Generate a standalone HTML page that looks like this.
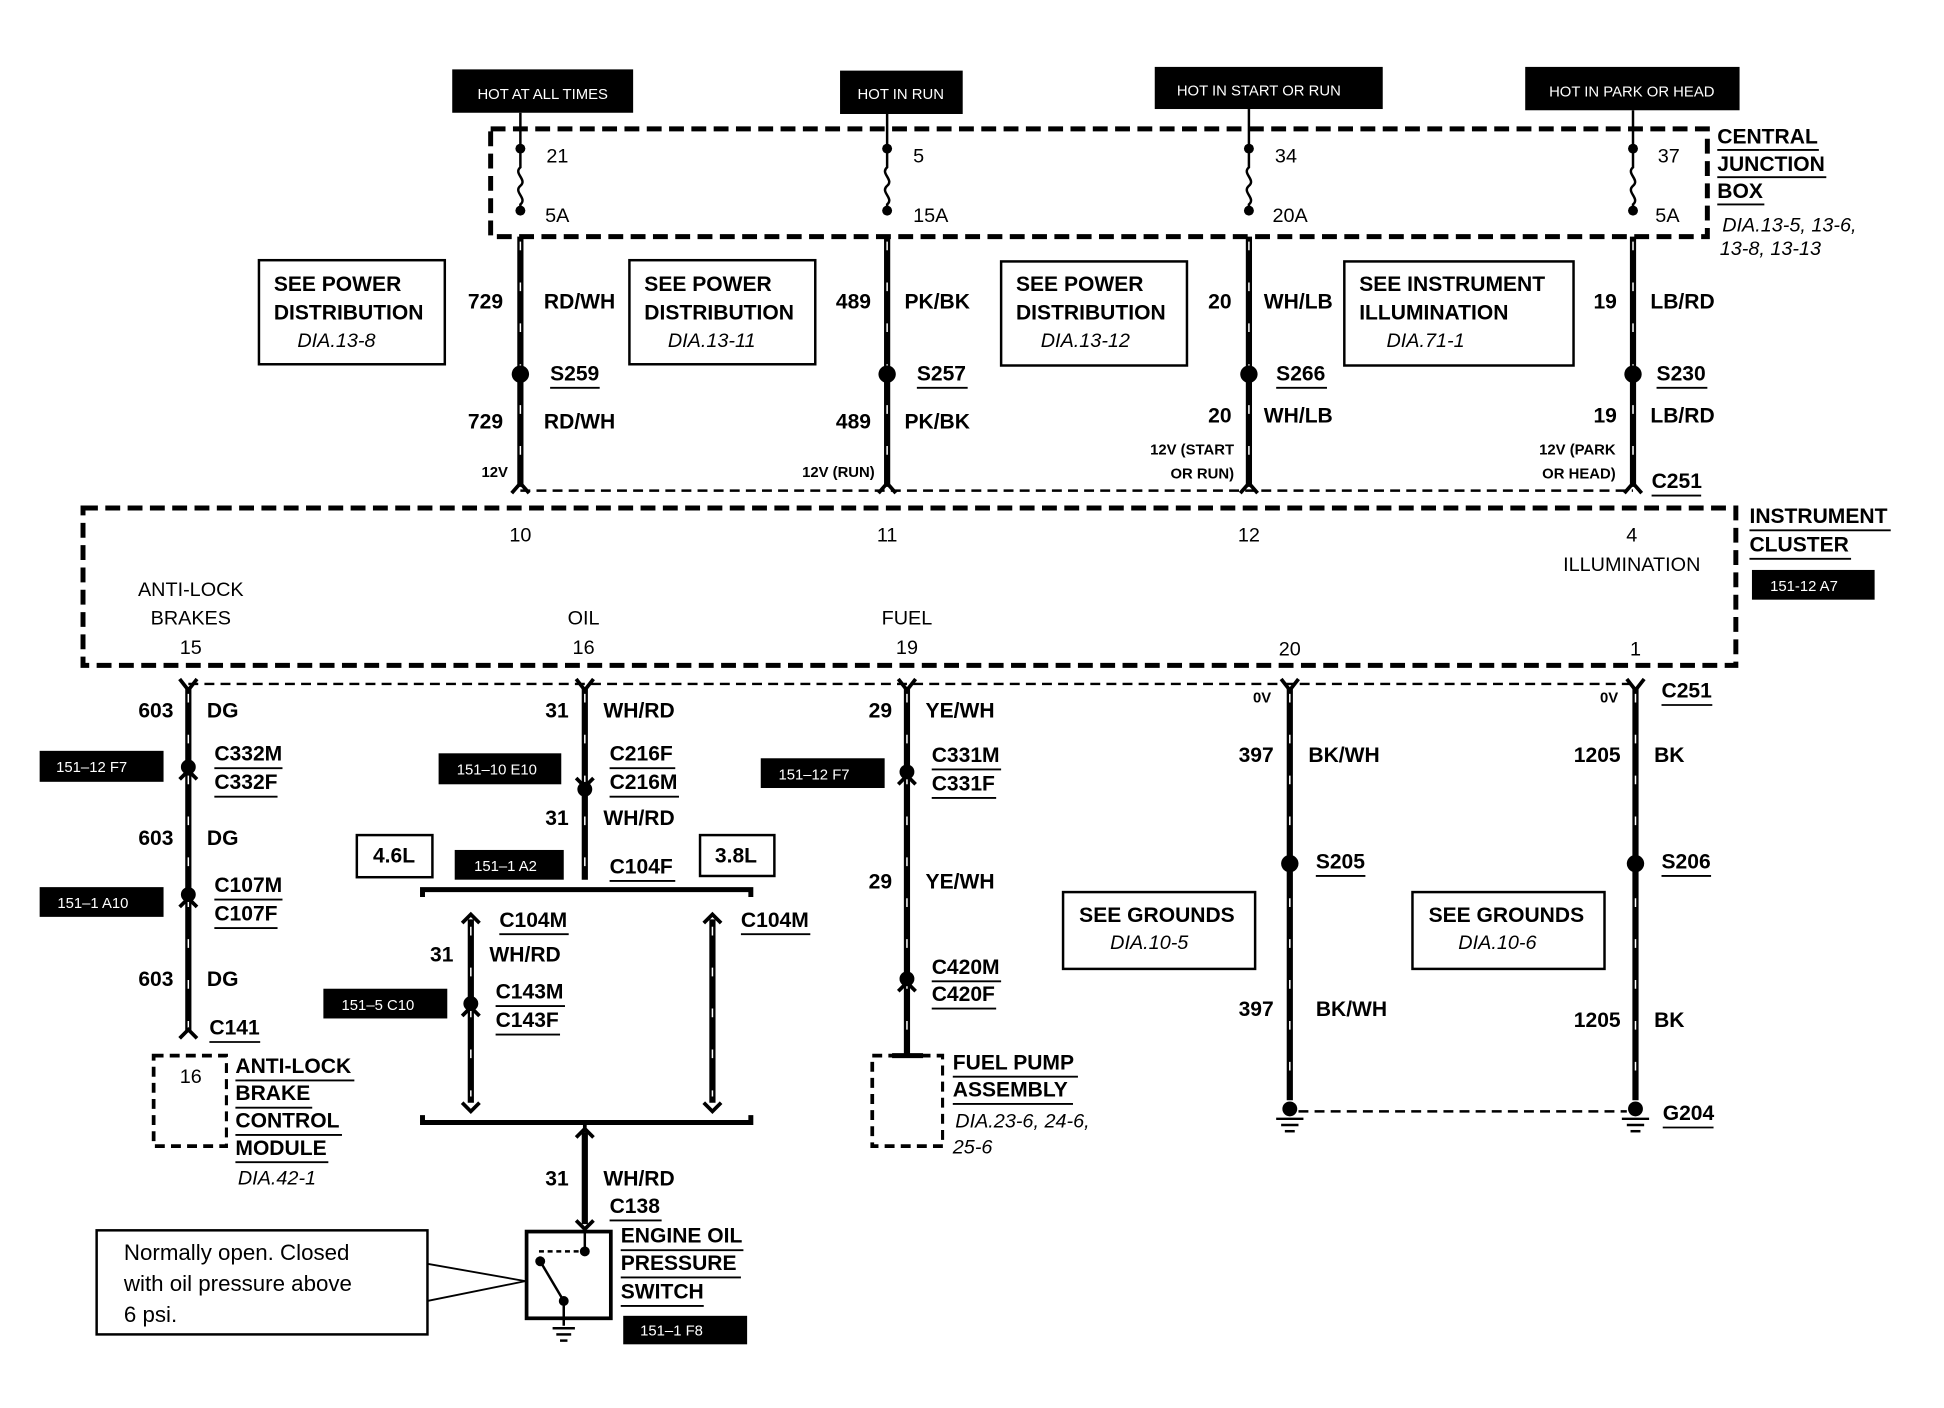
<!DOCTYPE html>
<html><head><meta charset="utf-8"><style>
html,body{margin:0;padding:0;background:#fff}
svg{display:block}
text{font-family:"Liberation Sans",Arial,sans-serif;fill:#000}
.b{font-weight:bold;font-size:17px}
.n{font-size:16px}
.i{font-style:italic;font-size:16px}
.w{fill:#fff;font-size:12px}
.s{font-weight:bold;font-size:12px}
.wire{stroke:#000;stroke-width:5;fill:none}
.tick{stroke:#fff;stroke-width:1.2;stroke-dasharray:7 26;fill:none}
.dash{stroke:#000;stroke-width:4;stroke-dasharray:12 6;fill:none}
.tdash{stroke:#000;stroke-width:2;stroke-dasharray:8 5;fill:none}
.box{stroke:#000;stroke-width:2;fill:#fff}
.u{stroke:#000;stroke-width:1.5}
</style></head><body>
<svg width="1944" height="1408" viewBox="0 0 1569 1136" preserveAspectRatio="xMinYMin meet" xmlns="http://www.w3.org/2000/svg">
<!-- top black labels -->
<rect x="365" y="56" width="146" height="35" fill="#000"/><text class="w" x="438" y="80" text-anchor="middle">HOT AT ALL TIMES</text>
<rect x="678" y="57" width="99" height="35" fill="#000"/><text class="w" x="727" y="80" text-anchor="middle">HOT IN RUN</text>
<rect x="932" y="54" width="184" height="34" fill="#000"/><text class="w" x="1016" y="77" text-anchor="middle">HOT IN START OR RUN</text>
<rect x="1231" y="54" width="173" height="35" fill="#000"/><text class="w" x="1317" y="78" text-anchor="middle">HOT IN PARK OR HEAD</text>
<!-- CJB -->
<rect x="396" y="104" width="982" height="87" class="dash"/>
<g>
<line x1="420" y1="91" x2="420" y2="120" stroke="#000" stroke-width="2"/>
<line x1="716" y1="92" x2="716" y2="120" stroke="#000" stroke-width="2"/>
<line x1="1008" y1="88" x2="1008" y2="120" stroke="#000" stroke-width="2"/>
<line x1="1318" y1="89" x2="1318" y2="120" stroke="#000" stroke-width="2"/>
</g>
<g fill="none" stroke="#000" stroke-width="2">
<path d="M420 120 v15 c-6 5 6 10 0 15 c-6 5 6 10 0 15 v5"/>
<path d="M716 120 v15 c-6 5 6 10 0 15 c-6 5 6 10 0 15 v5"/>
<path d="M1008 120 v15 c-6 5 6 10 0 15 c-6 5 6 10 0 15 v5"/>
<path d="M1318 120 v15 c-6 5 6 10 0 15 c-6 5 6 10 0 15 v5"/>
</g>
<g fill="#000"><circle cx="420" cy="120" r="4"/><circle cx="420" cy="170" r="4"/><circle cx="716" cy="120" r="4"/><circle cx="716" cy="170" r="4"/><circle cx="1008" cy="120" r="4"/><circle cx="1008" cy="170" r="4"/><circle cx="1318" cy="120" r="4"/><circle cx="1318" cy="170" r="4"/></g>
<text class="n" x="441" y="131">21</text><text class="n" x="440" y="179">5A</text>
<text class="n" x="737" y="131">5</text><text class="n" x="737" y="179">15A</text>
<text class="n" x="1029" y="131">34</text><text class="n" x="1027" y="179">20A</text>
<text class="n" x="1338" y="131">37</text><text class="n" x="1336" y="179">5A</text>
<text class="b" x="1386" y="116">CENTRAL</text><line class="u" x1="1386" y1="121" x2="1468" y2="121"/>
<text class="b" x="1386" y="138">JUNCTION</text><line class="u" x1="1386" y1="143" x2="1474" y2="143"/>
<text class="b" x="1386" y="160">BOX</text><line class="u" x1="1386" y1="165" x2="1424" y2="165"/>
<text class="i" x="1390" y="187">DIA.13-5, 13-6,</text><text class="i" x="1388" y="206">13-8, 13-13</text>
<!-- upper wires -->
<g class="wire"><line x1="420" y1="191" x2="420" y2="393"/><line x1="716" y1="191" x2="716" y2="393"/><line x1="1008" y1="191" x2="1008" y2="393"/><line x1="1318" y1="191" x2="1318" y2="393"/></g>
<g class="tick"><line x1="420" y1="195" x2="420" y2="390"/><line x1="716" y1="195" x2="716" y2="390"/><line x1="1008" y1="195" x2="1008" y2="390"/><line x1="1318" y1="195" x2="1318" y2="390"/></g>
<g fill="#000"><circle cx="420" cy="302" r="7"/><circle cx="716" cy="302" r="7"/><circle cx="1008" cy="302" r="7"/><circle cx="1318" cy="302" r="7"/></g>
<line class="tdash" x1="420" y1="396" x2="1318" y2="396"/>
<g fill="none" stroke="#000" stroke-width="3"><path d="M413 398 l7 -8 l7 8"/><path d="M709 398 l7 -8 l7 8"/><path d="M1001 398 l7 -8 l7 8"/><path d="M1311 398 l7 -8 l7 8"/></g>
<!-- boxes -->
<rect class="box" x="209" y="210" width="150" height="84"/><text class="b" x="221" y="235">SEE POWER</text><text class="b" x="221" y="258">DISTRIBUTION</text><text class="i" x="240" y="280">DIA.13-8</text>
<rect class="box" x="508" y="210" width="150" height="84"/><text class="b" x="520" y="235">SEE POWER</text><text class="b" x="520" y="258">DISTRIBUTION</text><text class="i" x="539" y="280">DIA.13-11</text>
<rect class="box" x="808" y="211" width="150" height="84"/><text class="b" x="820" y="235">SEE POWER</text><text class="b" x="820" y="258">DISTRIBUTION</text><text class="i" x="840" y="280">DIA.13-12</text>
<rect class="box" x="1085" y="211" width="185" height="84"/><text class="b" x="1097" y="235">SEE INSTRUMENT</text><text class="b" x="1097" y="258">ILLUMINATION</text><text class="i" x="1119" y="280">DIA.71-1</text>
<!-- upper labels -->
<text class="b" x="406" y="249" text-anchor="end">729</text><text class="b" x="439" y="249">RD/WH</text>
<text class="b" x="703" y="249" text-anchor="end">489</text><text class="b" x="730" y="249">PK/BK</text>
<text class="b" x="994" y="249" text-anchor="end">20</text><text class="b" x="1020" y="249">WH/LB</text>
<text class="b" x="1305" y="249" text-anchor="end">19</text><text class="b" x="1332" y="249">LB/RD</text>
<text class="b" x="444" y="307">S259</text><line class="u" x1="444" y1="313" x2="484" y2="313"/>
<text class="b" x="740" y="307">S257</text><line class="u" x1="740" y1="313" x2="781" y2="313"/>
<text class="b" x="1030" y="307">S266</text><line class="u" x1="1030" y1="313" x2="1071" y2="313"/>
<text class="b" x="1337" y="307">S230</text><line class="u" x1="1337" y1="313" x2="1378" y2="313"/>
<text class="b" x="406" y="346" text-anchor="end">729</text><text class="b" x="439" y="346">RD/WH</text>
<text class="b" x="703" y="346" text-anchor="end">489</text><text class="b" x="730" y="346">PK/BK</text>
<text class="b" x="994" y="341" text-anchor="end">20</text><text class="b" x="1020" y="341">WH/LB</text>
<text class="b" x="1305" y="341" text-anchor="end">19</text><text class="b" x="1332" y="341">LB/RD</text>
<text class="s" x="410" y="385" text-anchor="end">12V</text>
<text class="s" x="706" y="385" text-anchor="end">12V (RUN)</text>
<text class="s" x="996" y="367" text-anchor="end">12V (START</text><text class="s" x="996" y="386" text-anchor="end">OR RUN)</text>
<text class="s" x="1304" y="367" text-anchor="end">12V (PARK</text><text class="s" x="1304" y="386" text-anchor="end">OR HEAD)</text>
<text class="b" x="1333" y="394">C251</text><line class="u" x1="1333" y1="400" x2="1373" y2="400"/>
<!-- instrument cluster -->
<rect x="67" y="410" width="1334" height="127" class="dash"/>
<text class="n" x="420" y="437" text-anchor="middle">10</text>
<text class="n" x="716" y="437" text-anchor="middle">11</text>
<text class="n" x="1008" y="437" text-anchor="middle">12</text>
<text class="n" x="1317" y="437" text-anchor="middle">4</text>
<text class="n" x="1317" y="461" text-anchor="middle">ILLUMINATION</text>
<text class="n" x="154" y="481" text-anchor="middle">ANTI-LOCK</text><text class="n" x="154" y="504" text-anchor="middle">BRAKES</text><text class="n" x="154" y="528" text-anchor="middle">15</text>
<text class="n" x="471" y="504" text-anchor="middle">OIL</text><text class="n" x="471" y="528" text-anchor="middle">16</text>
<text class="n" x="732" y="504" text-anchor="middle">FUEL</text><text class="n" x="732" y="528" text-anchor="middle">19</text>
<text class="n" x="1041" y="529" text-anchor="middle">20</text>
<text class="n" x="1320" y="529" text-anchor="middle">1</text>
<text class="b" x="1412" y="422">INSTRUMENT</text><line class="u" x1="1412" y1="428" x2="1526" y2="428"/>
<text class="b" x="1412" y="445">CLUSTER</text><line class="u" x1="1412" y1="451" x2="1494" y2="451"/>
<rect x="1414" y="460" width="99" height="24" fill="#000"/><text class="w" x="1456" y="477" text-anchor="middle">151-12 A7</text>
<!-- lower connector C251 -->
<line class="tdash" x1="152" y1="552" x2="1320" y2="552"/>
<g fill="none" stroke="#000" stroke-width="3"><path d="M145 548 l7 9 l7 -9"/><path d="M465 548 l7 9 l7 -9"/><path d="M725 548 l7 9 l7 -9"/><path d="M1034 548 l7 9 l7 -9"/><path d="M1313 548 l7 9 l7 -9"/></g>
<text class="b" x="1341" y="563">C251</text><line class="u" x1="1341" y1="569" x2="1382" y2="569"/>
<text class="s" x="1026" y="567" text-anchor="end">0V</text><text class="s" x="1306" y="567" text-anchor="end">0V</text>
<!-- lower wires -->
<g class="wire"><line x1="152" y1="555" x2="152" y2="833"/><line x1="472" y1="555" x2="472" y2="710"/><line x1="732" y1="555" x2="732" y2="852"/><line x1="1041" y1="555" x2="1041" y2="888"/><line x1="1320" y1="555" x2="1320" y2="888"/>
<line x1="380" y1="742" x2="380" y2="890"/><line x1="575" y1="742" x2="575" y2="890"/><line x1="472" y1="914" x2="472" y2="988"/></g>
<g class="tick"><line x1="152" y1="560" x2="152" y2="830"/><line x1="472" y1="560" x2="472" y2="705"/><line x1="732" y1="560" x2="732" y2="848"/><line x1="1041" y1="560" x2="1041" y2="885"/><line x1="1320" y1="560" x2="1320" y2="885"/><line x1="380" y1="748" x2="380" y2="885"/><line x1="575" y1="748" x2="575" y2="885"/></g>
<!-- connector pins -->
<g fill="#000"><circle cx="152" cy="619" r="6"/><circle cx="152" cy="722" r="6"/><circle cx="472" cy="637" r="6"/><circle cx="732" cy="623" r="6"/><circle cx="732" cy="790" r="6"/><circle cx="380" cy="810" r="6"/><circle cx="1041" cy="697" r="7"/><circle cx="1320" cy="697" r="7"/></g>
<g fill="none" stroke="#000" stroke-width="3"><path d="M145 629 l7 -7 l7 7"/><path d="M145 732 l7 -7 l7 7"/><path d="M465 628 l7 7 l7 -7"/><path d="M725 633 l7 -7 l7 7"/><path d="M725 800 l7 -7 l7 7"/><path d="M373 820 l7 -7 l7 7"/><path d="M145 838 l7 -7 l7 7"/><path d="M373 745 l7 -7 l7 7"/><path d="M568 745 l7 -7 l7 7"/><path d="M373 890 l7 7 l7 -7"/><path d="M568 890 l7 7 l7 -7"/><path d="M465 918 l7 -7 l7 7"/><path d="M465 985 l7 7 l7 -7"/></g>
<!-- left column labels -->
<text class="b" x="140" y="579" text-anchor="end">603</text><text class="b" x="167" y="579">DG</text>
<text class="b" x="173" y="614">C332M</text><line class="u" x1="173" y1="620" x2="228" y2="620"/>
<text class="b" x="173" y="637">C332F</text><line class="u" x1="173" y1="643" x2="224" y2="643"/>
<rect x="32" y="606" width="100" height="25" fill="#000"/><text class="w" x="74" y="623" text-anchor="middle">151–12 F7</text>
<text class="b" x="140" y="682" text-anchor="end">603</text><text class="b" x="167" y="682">DG</text>
<text class="b" x="173" y="720">C107M</text><line class="u" x1="173" y1="726" x2="228" y2="726"/>
<text class="b" x="173" y="743">C107F</text><line class="u" x1="173" y1="749" x2="224" y2="749"/>
<rect x="32" y="716" width="100" height="24" fill="#000"/><text class="w" x="75" y="733" text-anchor="middle">151–1 A10</text>
<text class="b" x="140" y="796" text-anchor="end">603</text><text class="b" x="167" y="796">DG</text>
<text class="b" x="169" y="835">C141</text><line class="u" x1="169" y1="841" x2="210" y2="841"/>
<rect x="124" y="852" width="59" height="73" class="tdash" style="stroke-width:3"/>
<text class="n" x="154" y="874" text-anchor="middle">16</text>
<rect x="184" y="850" width="6" height="80" fill="#fff"/>
<text class="b" x="190" y="866">ANTI-LOCK</text><line class="u" x1="190" y1="872" x2="286" y2="872"/>
<text class="b" x="190" y="888">BRAKE</text><line class="u" x1="190" y1="894" x2="252" y2="894"/>
<text class="b" x="190" y="910">CONTROL</text><line class="u" x1="190" y1="916" x2="276" y2="916"/>
<text class="b" x="190" y="932">MODULE</text><line class="u" x1="190" y1="938" x2="265" y2="938"/>
<text class="i" x="192" y="956">DIA.42-1</text>
<!-- oil column -->
<text class="b" x="459" y="579" text-anchor="end">31</text><text class="b" x="487" y="579">WH/RD</text>
<text class="b" x="492" y="614">C216F</text><line class="u" x1="492" y1="620" x2="545" y2="620"/>
<text class="b" x="492" y="637">C216M</text><line class="u" x1="492" y1="643" x2="548" y2="643"/>
<rect x="354" y="608" width="99" height="25" fill="#000"/><text class="w" x="401" y="625" text-anchor="middle">151–10 E10</text>
<text class="b" x="459" y="666" text-anchor="end">31</text><text class="b" x="487" y="666">WH/RD</text>
<rect class="box" x="288" y="674" width="61" height="34"/><text class="b" x="318" y="696" text-anchor="middle">4.6L</text>
<rect x="367" y="686" width="88" height="24" fill="#000"/><text class="w" x="408" y="703" text-anchor="middle">151–1 A2</text>
<text class="b" x="492" y="705">C104F</text><line class="u" x1="492" y1="711" x2="545" y2="711"/>
<rect class="box" x="565" y="674" width="60" height="33"/><text class="b" x="594" y="696" text-anchor="middle">3.8L</text>
<path d="M341 724 v-6 h265 v6" fill="none" stroke="#000" stroke-width="4"/>
<text class="b" x="403" y="748">C104M</text><line class="u" x1="403" y1="754" x2="459" y2="754"/>
<text class="b" x="598" y="748">C104M</text><line class="u" x1="598" y1="754" x2="654" y2="754"/>
<text class="b" x="366" y="776" text-anchor="end">31</text><text class="b" x="395" y="776">WH/RD</text>
<text class="b" x="400" y="806">C143M</text><line class="u" x1="400" y1="812" x2="456" y2="812"/>
<text class="b" x="400" y="829">C143F</text><line class="u" x1="400" y1="835" x2="452" y2="835"/>
<rect x="261" y="798" width="100" height="24" fill="#000"/><text class="w" x="305" y="815" text-anchor="middle">151–5 C10</text>
<path d="M341 900 v6 h265 v-6" fill="none" stroke="#000" stroke-width="4"/>
<line x1="472" y1="906" x2="472" y2="914" stroke="#000" stroke-width="3"/>
<text class="b" x="459" y="957" text-anchor="end">31</text><text class="b" x="487" y="957">WH/RD</text>
<text class="b" x="492" y="979">C138</text><line class="u" x1="492" y1="985" x2="534" y2="985"/>
<rect x="425" y="994" width="68" height="70" fill="#fff" stroke="#000" stroke-width="3"/>
<g stroke="#000" stroke-width="2" fill="none"><line x1="472" y1="994" x2="472" y2="1010"/><line x1="436" y1="1018" x2="455" y2="1050"/><path d="M436 1018 L436 1010 L472 1010" stroke-dasharray="4 3"/><line x1="455" y1="1050" x2="455" y2="1070"/></g>
<g fill="#000"><circle cx="436" cy="1018" r="4"/><circle cx="472" cy="1010" r="4"/><circle cx="455" cy="1050" r="4"/></g>
<g stroke="#000" stroke-width="2"><line x1="446" y1="1072" x2="464" y2="1072"/><line x1="449" y1="1077" x2="461" y2="1077"/><line x1="452" y1="1082" x2="458" y2="1082"/></g>
<text class="b" x="501" y="1003">ENGINE OIL</text><line class="u" x1="501" y1="1009" x2="600" y2="1009"/>
<text class="b" x="501" y="1025">PRESSURE</text><line class="u" x1="501" y1="1031" x2="598" y2="1031"/>
<text class="b" x="501" y="1048">SWITCH</text><line class="u" x1="501" y1="1054" x2="568" y2="1054"/>
<rect x="503" y="1062" width="100" height="23" fill="#000"/><text class="w" x="542" y="1078" text-anchor="middle">151–1 F8</text>
<rect class="box" x="78" y="993" width="267" height="84"/>
<text x="100" y="1017" style="font-size:18px">Normally open. Closed</text>
<text x="100" y="1042" style="font-size:18px">with oil pressure above</text>
<text x="100" y="1067" style="font-size:18px">6 psi.</text>
<g stroke="#000" stroke-width="1.5"><line x1="345" y1="1020" x2="424" y2="1034"/><line x1="345" y1="1050" x2="424" y2="1034"/></g>
<!-- fuel column -->
<text class="b" x="720" y="579" text-anchor="end">29</text><text class="b" x="747" y="579">YE/WH</text>
<text class="b" x="752" y="615">C331M</text><line class="u" x1="752" y1="621" x2="808" y2="621"/>
<text class="b" x="752" y="638">C331F</text><line class="u" x1="752" y1="644" x2="804" y2="644"/>
<rect x="614" y="612" width="100" height="24" fill="#000"/><text class="w" x="657" y="629" text-anchor="middle">151–12 F7</text>
<text class="b" x="720" y="717" text-anchor="end">29</text><text class="b" x="747" y="717">YE/WH</text>
<text class="b" x="752" y="786">C420M</text><line class="u" x1="752" y1="792" x2="808" y2="792"/>
<text class="b" x="752" y="808">C420F</text><line class="u" x1="752" y1="814" x2="804" y2="814"/>
<rect x="704" y="852" width="57" height="73" class="tdash" style="stroke-width:3"/>
<rect x="762" y="850" width="6" height="80" fill="#fff"/>
<line x1="720" y1="852" x2="745" y2="852" stroke="#000" stroke-width="4"/>
<text class="b" x="769" y="863">FUEL PUMP</text><line class="u" x1="769" y1="869" x2="870" y2="869"/>
<text class="b" x="769" y="885">ASSEMBLY</text><line class="u" x1="769" y1="891" x2="866" y2="891"/>
<text class="i" x="771" y="910">DIA.23-6, 24-6,</text><text class="i" x="769" y="931">25-6</text>
<!-- ground columns -->
<text class="b" x="1028" y="615" text-anchor="end">397</text><text class="b" x="1056" y="615">BK/WH</text>
<text class="b" x="1308" y="615" text-anchor="end">1205</text><text class="b" x="1335" y="615">BK</text>
<text class="b" x="1062" y="701">S205</text><line class="u" x1="1062" y1="707" x2="1102" y2="707"/>
<text class="b" x="1341" y="701">S206</text><line class="u" x1="1341" y1="707" x2="1381" y2="707"/>
<rect class="box" x="858" y="720" width="155" height="62"/><text class="b" x="871" y="744">SEE GROUNDS</text><text class="i" x="896" y="766">DIA.10-5</text>
<rect class="box" x="1140" y="720" width="155" height="62"/><text class="b" x="1153" y="744">SEE GROUNDS</text><text class="i" x="1177" y="766">DIA.10-6</text>
<text class="b" x="1028" y="820" text-anchor="end">397</text><text class="b" x="1062" y="820">BK/WH</text>
<text class="b" x="1308" y="829" text-anchor="end">1205</text><text class="b" x="1335" y="829">BK</text>
<g fill="#000"><circle cx="1041" cy="895" r="6"/><circle cx="1320" cy="895" r="6"/></g>
<g stroke="#000" stroke-width="2"><line x1="1030" y1="903" x2="1052" y2="903"/><line x1="1034" y1="908" x2="1048" y2="908"/><line x1="1037" y1="913" x2="1045" y2="913"/><line x1="1309" y1="903" x2="1331" y2="903"/><line x1="1313" y1="908" x2="1327" y2="908"/><line x1="1316" y1="913" x2="1324" y2="913"/></g>
<line class="tdash" x1="1048" y1="897" x2="1313" y2="897"/>
<text class="b" x="1342" y="904">G204</text><line class="u" x1="1342" y1="910" x2="1383" y2="910"/>
</svg>
</body></html>
